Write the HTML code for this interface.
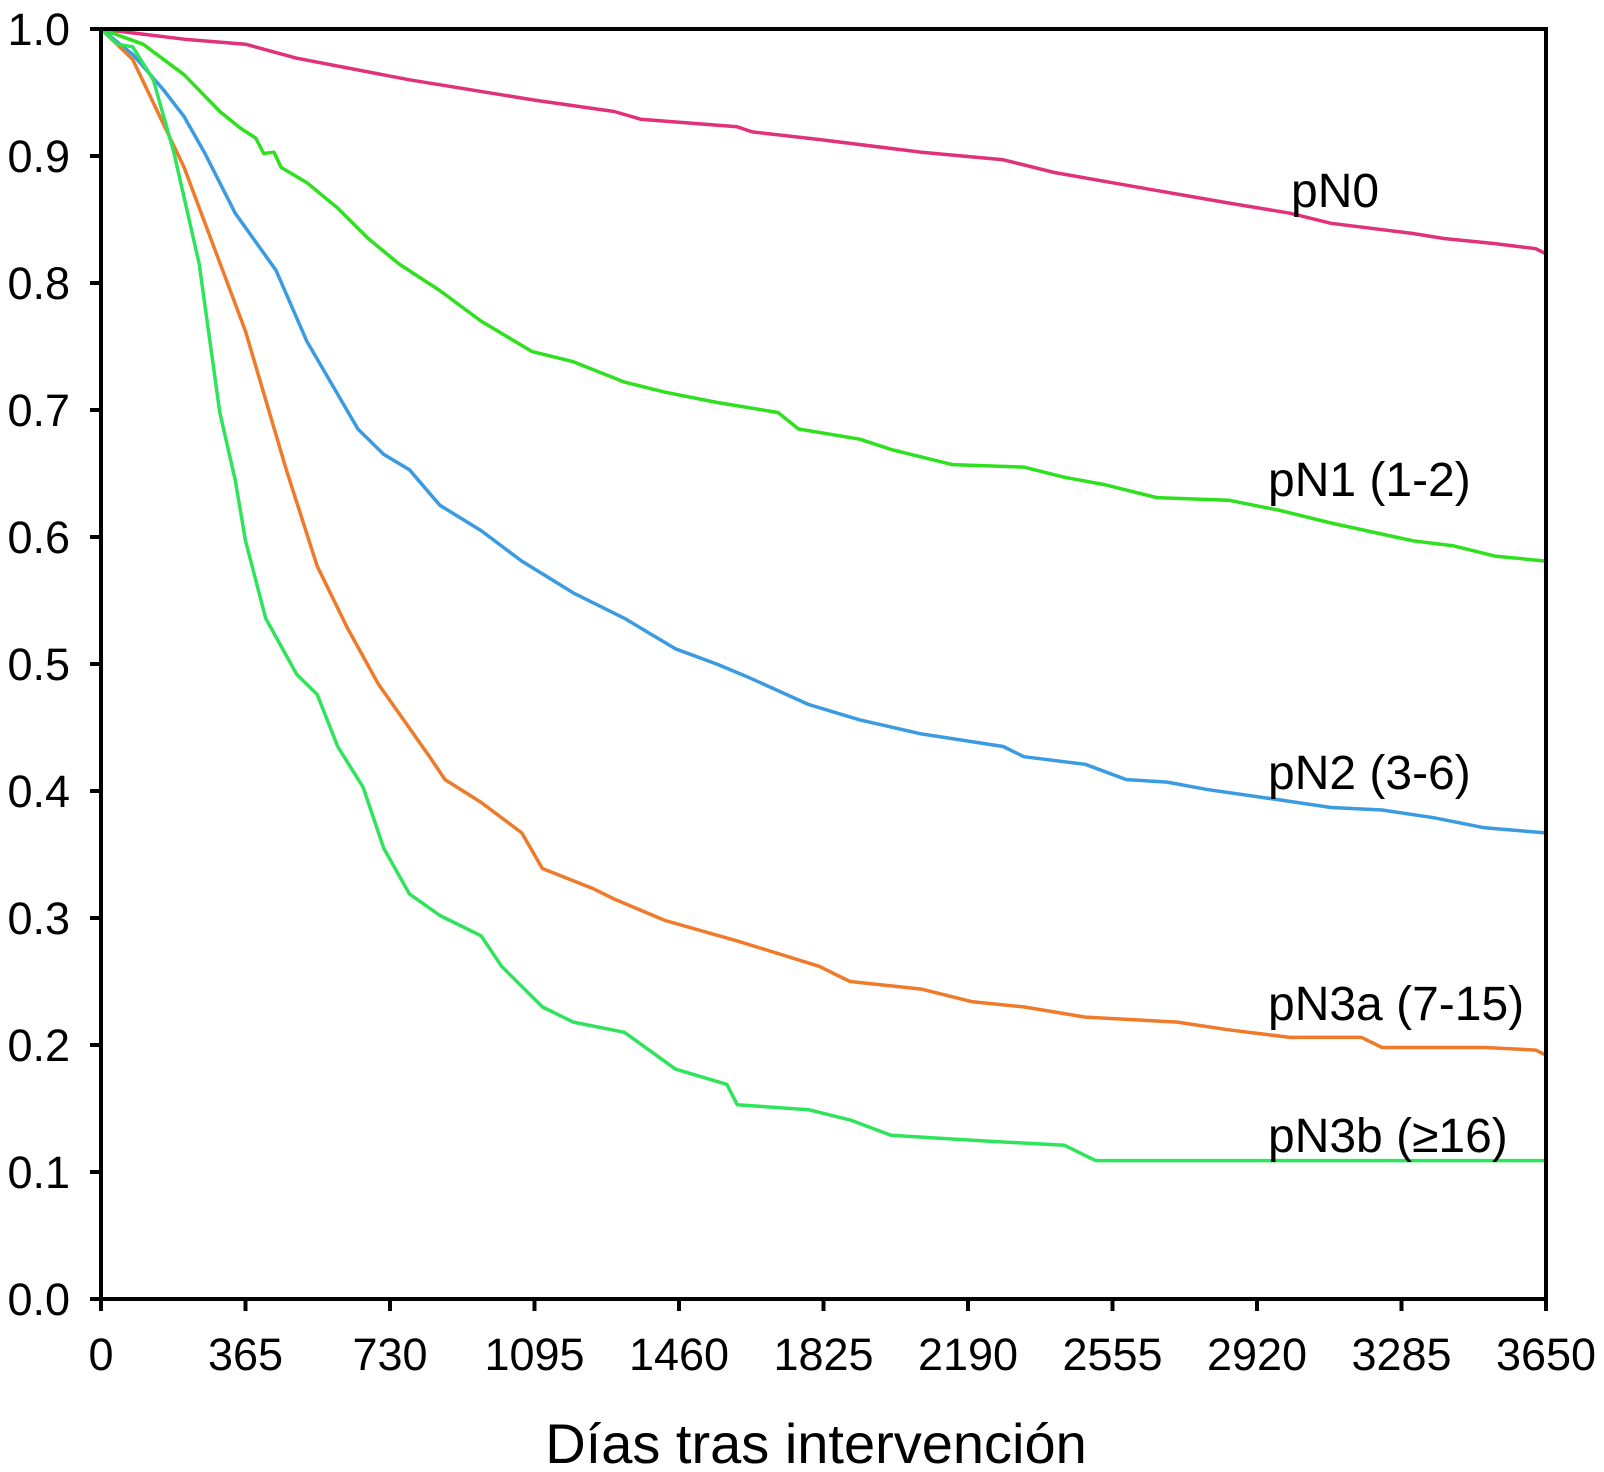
<!DOCTYPE html>
<html><head><meta charset="utf-8"><style>
html,body{margin:0;padding:0;background:#fff;}
svg{display:block;}
text{font-family:"Liberation Sans",sans-serif;fill:#000;}
</style></head><body>
<svg id="chart" width="1604" height="1472" viewBox="0 0 1604 1472" xmlns="http://www.w3.org/2000/svg"></svg>
<script>
const xTicks=[0,365,730,1095,1460,1825,2190,2555,2920,3285,3650];
const yTicks=[0,0.1,0.2,0.3,0.4,0.5,0.6,0.7,0.8,0.9,1.0];
const seriesNames=["pN0","pN1 (1-2)","pN2 (3-6)","pN3a (7-15)","pN3b (\u226516)"];
const seriesColors=["#e0317a","#2ee01e","#3a9be0","#ee7a2a","#2ee45a"];
const pN0Days=[0,210,365,494,779,1095,1296,1363,1607,1645,1814,2072,2279,2408,2590,2848,3003,3107,3314,3392,3521,3624,3650];
const pN0Surv=[1,.992,.988,.977,.960,.944,.935,.929,.923,.919,.913,.903,.897,.887,.877,.863,.855,.847,.839,.835,.831,.827,.823];
const pN1Days=[0,106,210,300,352,391,411,437,455,520,598,675,753,856,960,1089,1193,1322,1425,1555,1710,1762,1917,1995,2150,2331,2434,2538,2667,2848,2977,3107,3314,3417,3521,3650];
const pN1Surv=[1,.988,.964,.935,.922,.914,.902,.903,.891,.879,.859,.835,.815,.794,.770,.746,.738,.722,.714,.706,.698,.685,.677,.669,.657,.655,.647,.641,.631,.629,.621,.611,.597,.593,.585,.581];
const pN2Days=[0,80,158,210,261,339,442,520,649,714,779,856,960,1063,1193,1322,1451,1555,1632,1788,1917,2072,2279,2331,2486,2590,2693,2797,2977,3107,3236,3366,3495,3650];
const pN2Surv=[1,.980,.952,.931,.903,.855,.810,.754,.685,.665,.653,.625,.605,.581,.556,.536,.512,.500,.490,.468,.456,.445,.435,.427,.421,.409,.407,.401,.393,.387,.385,.379,.371,.367];
const pN3aDays=[0,80,210,365,468,546,623,701,830,869,960,1063,1115,1244,1296,1425,1607,1814,1892,2072,2201,2331,2486,2719,2848,3003,3184,3236,3495,3624,3650];
const pN3aSurv=[1,.976,.891,.762,.653,.577,.528,.484,.427,.409,.391,.367,.339,.323,.315,.298,.282,.262,.250,.244,.234,.230,.222,.218,.212,.206,.206,.198,.198,.196,.192];
const pN3bDays=[0,41,80,132,184,248,300,339,365,416,494,546,598,662,714,779,856,960,1012,1115,1193,1322,1451,1581,1607,1788,1892,1995,2201,2434,2512,3650];
const pN3bSurv=[1,.988,.986,.960,.903,.815,.698,.645,.597,.536,.492,.476,.435,.403,.355,.319,.302,.286,.262,.230,.218,.210,.181,.169,.153,.149,.141,.129,.125,.121,.109,.109];
const labelX=[1291,1268,1268,1268,1268];
const labelBase=[207,496,789,1020,1152];

const X0=101,X1=1546,Y0=1299,Y1=29;
const sx=d=>X0+d/3650*(X1-X0);
const sy=v=>Y0-v*(Y0-Y1);
const svg=document.getElementById('chart');
const NS='http://www.w3.org/2000/svg';
function mk(tag,attrs,parent){const e=document.createElementNS(NS,tag);for(const k in attrs)e.setAttribute(k,attrs[k]);(parent||svg).appendChild(e);return e;}

const days=[pN0Days,pN1Days,pN2Days,pN3aDays,pN3bDays];
const surv=[pN0Surv,pN1Surv,pN2Surv,pN3aSurv,pN3bSurv];
for(let s=0;s<5;s++){
  let d='';
  for(let i=0;i<days[s].length;i++)d+=(i?'L':'M')+sx(days[s][i]).toFixed(1)+' '+sy(surv[s][i]).toFixed(1);
  const p=mk('path',{d:d,fill:'none',stroke:seriesColors[s],'stroke-width':3.5,'stroke-linejoin':'round'});
  
  
  const t=mk('text',{x:labelX[s],y:labelBase[s],'font-size':48});
  t.textContent=seriesNames[s];
  
  
}
const frame=mk('rect',{x:X0,y:Y1,width:X1-X0,height:Y0-Y1,fill:'none',stroke:'#000','stroke-width':4});


for(const v of yTicks){
  const l=mk('line',{x1:X0-11,x2:X0,y1:sy(v),y2:sy(v),stroke:'#000','stroke-width':4});
  
  
  const t=mk('text',{x:70,y:sy(v)+16,'font-size':45,'text-anchor':'end'});
  t.textContent=v.toFixed(1);
  
  
}
for(const v of xTicks){
  const l=mk('line',{x1:sx(v),x2:sx(v),y1:Y0,y2:Y0+12,stroke:'#000','stroke-width':4});
  
  
  const t=mk('text',{x:sx(v),y:1370,'font-size':45,'text-anchor':'middle'});
  t.textContent=v;
  
  
}
const xt=mk('text',{x:816,y:1463,'font-size':56,'text-anchor':'middle'});
xt.textContent='Días tras intervención';


</script>
</body></html>
